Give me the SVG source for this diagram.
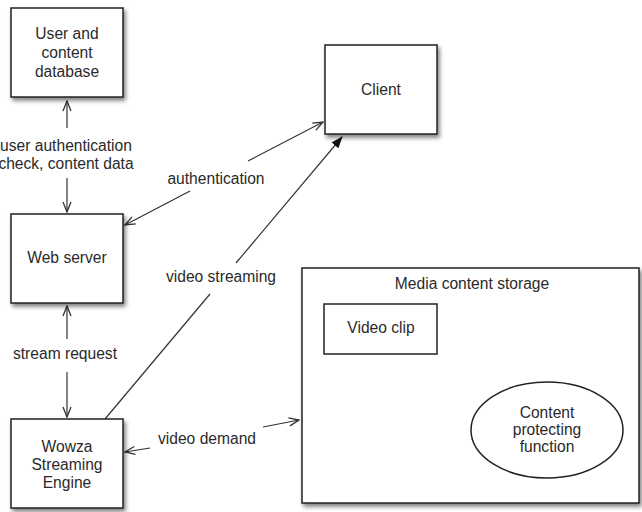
<svg xmlns="http://www.w3.org/2000/svg" width="642" height="512" viewBox="0 0 642 512">
  <defs>
    <filter id="shadow" x="-10%" y="-10%" width="130%" height="130%">
      <feDropShadow dx="2" dy="3" stdDeviation="2" flood-color="#000" flood-opacity="0.5"/>
    </filter>
    <marker id="open" viewBox="0 0 12 10" refX="11" refY="5" markerWidth="12" markerHeight="10" markerUnits="userSpaceOnUse" orient="auto">
      <path d="M1,1 L11,5 L1,9" fill="none" stroke="#333" stroke-width="1.3"/>
    </marker>
    <marker id="solid" viewBox="0 0 12 10" refX="11" refY="5" markerWidth="12" markerHeight="10" markerUnits="userSpaceOnUse" orient="auto">
      <path d="M0,0.5 L12,5 L0,9.5 Z" fill="#111"/>
    </marker>
  </defs>
  <style>
    .box { fill: #fff; stroke: #222; stroke-width: 1.5; }
    .txt { font-family: "Liberation Sans", Arial, sans-serif; font-size: 15.6px; fill: #2a2a2a; text-anchor: middle; }
    .edge { fill: none; stroke: #333; stroke-width: 1.2; }
  </style>
  <rect width="642" height="512" fill="#fff"/>

  <g id="connectors">
    <line class="edge" x1="67" y1="128" x2="67" y2="101" marker-end="url(#open)"/>
    <line class="edge" x1="67" y1="178" x2="67" y2="212" marker-end="url(#open)"/>
    <line class="edge" x1="190" y1="191" x2="125" y2="225" marker-end="url(#open)"/>
    <line class="edge" x1="248" y1="161" x2="323" y2="122" marker-end="url(#open)"/>
    <line class="edge" x1="105" y1="419" x2="210" y2="294"/>
    <line class="edge" x1="236" y1="263" x2="342" y2="137" marker-end="url(#solid)"/>
    <line class="edge" x1="67" y1="339" x2="67" y2="306" marker-end="url(#open)"/>
    <line class="edge" x1="67" y1="372" x2="67" y2="417" marker-end="url(#open)"/>
    <line class="edge" x1="150" y1="448" x2="125" y2="452" marker-end="url(#open)"/>
    <line class="edge" x1="263" y1="427" x2="299" y2="420" marker-end="url(#open)"/>
    <line class="edge" x1="495" y1="394" x2="439" y2="356" marker-end="url(#solid)"/>
    <text class="txt" x="66" y="151">user authentication</text>
    <text class="txt" x="66" y="169">check, content data</text>
    <text class="txt" x="216" y="184">authentication</text>
    <text class="txt" x="221" y="282">video streaming</text>
    <text class="txt" x="65" y="359">stream request</text>
    <text class="txt" x="207" y="444">video demand</text>
  </g>

  <g id="user-db">
    <rect class="box" x="11" y="8" width="112" height="89" filter="url(#shadow)"/>
    <text class="txt" x="67" y="39">User and</text>
    <text class="txt" x="67" y="58">content</text>
    <text class="txt" x="67" y="77">database</text>
  </g>

  <g id="client">
    <rect class="box" x="325" y="45" width="112" height="89" filter="url(#shadow)"/>
    <text class="txt" x="381" y="95">Client</text>
  </g>

  <g id="web-server">
    <rect class="box" x="11" y="214" width="112" height="89" filter="url(#shadow)"/>
    <text class="txt" x="67" y="263">Web server</text>
  </g>

  <g id="wowza">
    <rect class="box" x="11" y="419" width="112" height="89" filter="url(#shadow)"/>
    <text class="txt" x="67" y="452">Wowza</text>
    <text class="txt" x="67" y="470">Streaming</text>
    <text class="txt" x="67" y="488">Engine</text>
  </g>

  <g id="media-storage">
    <rect class="box" x="302" y="268" width="337" height="235" filter="url(#shadow)"/>
    <text class="txt" x="472" y="289">Media content storage</text>
  </g>

  <g id="video-clip">
    <rect class="box" x="324" y="304" width="113" height="50" stroke-width="1.2"/>
    <text class="txt" x="381" y="333">Video clip</text>
  </g>

  <g id="content-protection">
    <ellipse class="box" cx="547" cy="430" rx="76" ry="48" stroke-width="1.2"/>
    <text class="txt" x="547" y="418">Content</text>
    <text class="txt" x="547" y="435">protecting</text>
    <text class="txt" x="547" y="452">function</text>
  </g>
</svg>
